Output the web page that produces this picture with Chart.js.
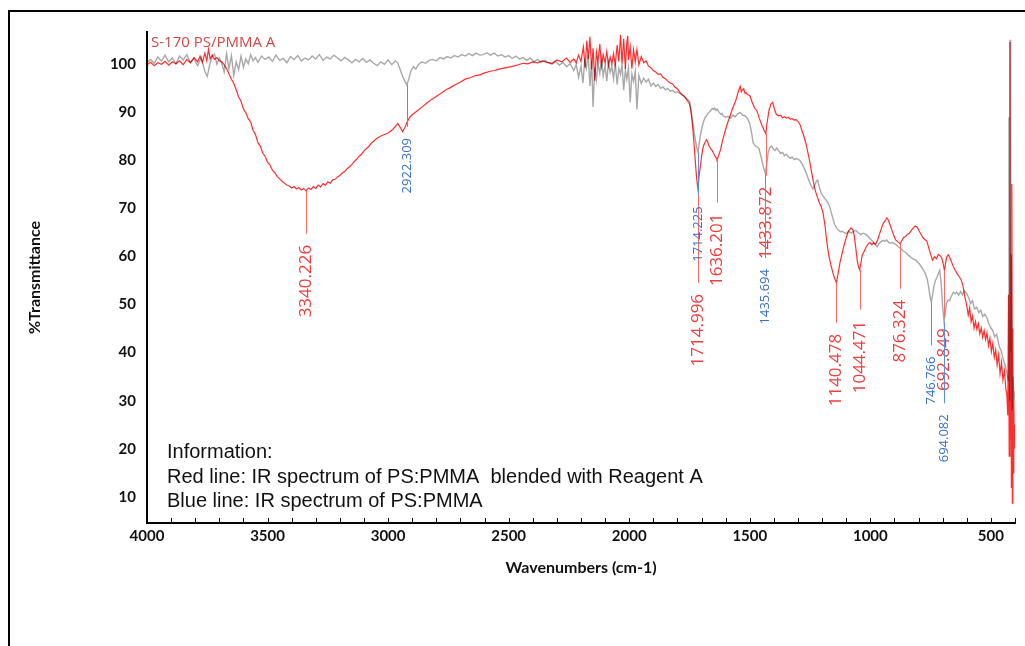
<!DOCTYPE html>
<html>
<head>
<meta charset="utf-8">
<script src="https://cdn.jsdelivr.net/npm/chart.js@4.4.1/dist/chart.umd.min.js"></script>
<style>
  html, body { margin: 0; padding: 0; background: #fff; overflow: hidden; }
  #frame { position: absolute; left: 8px; top: 10px; width: 1100px; height: 700px; border: 2px solid #000; }
  #spectrum { position: absolute; left: 0; top: 0; }
</style>
</head>
<body>
<div id="frame"></div>
<canvas id="spectrum" width="1025" height="646"></canvas>
<script>
// [wavenumber, %T] – PS:PMMA blended with reagent A (red trace)
const redTrace = [
  [4000,99.8],[3985,100.3],[3970,99.6],[3955,100.2],[3940,99.9],[3925,100.5],[3910,99.7],[3895,100.4],[3880,100.0],[3865,100.6],
  [3850,99.8],[3835,100.9],[3820,100.2],[3805,101.3],[3790,100.4],[3780,101.6],[3770,100.3],[3760,102.2],[3752,100.6],[3745,103.0],
  [3738,101.0],[3730,101.8],[3720,100.9],[3710,101.3],[3700,100.6],[3690,100.4],[3680,99.8],[3670,99.0],[3660,97.9],[3650,96.8],
  [3640,95.9],[3630,94.6],[3620,93.1],[3610,92.2],[3600,90.6],[3590,89.8],[3580,88.6],[3570,87.9],[3560,86.2],[3550,85.3],
  [3540,83.6],[3530,82.9],[3520,81.4],[3510,80.8],[3500,79.5],[3490,79.0],[3480,77.9],[3470,77.4],[3460,76.6],[3450,76.1],
  [3440,75.6],[3430,75.2],[3420,74.8],[3410,74.6],[3400,74.2],[3390,74.5],[3380,74.0],[3370,74.3],[3360,73.8],[3350,74.1],
  [3340.226,73.6],[3330,74.2],[3320,73.9],[3310,74.5],[3300,74.1],[3290,74.8],[3280,74.4],[3270,75.1],[3260,74.8],[3250,75.5],
  [3240,75.2],[3230,75.9],[3220,76.0],[3210,76.5],[3200,76.8],[3190,77.3],[3180,77.6],[3170,78.2],[3160,78.6],[3150,79.1],
  [3140,79.7],[3130,80.2],[3120,80.8],[3110,81.2],[3100,81.9],[3090,82.4],[3080,82.8],[3070,83.5],[3060,83.9],[3050,84.4],
  [3040,84.7],[3030,85.0],[3020,85.2],[3010,85.4],[3000,85.6],[2990,86.0],[2980,86.4],[2970,87.0],[2960,87.6],[2950,86.8],
  [2940,85.9],[2930,86.8],[2920,88.0],[2910,88.9],[2900,89.4],[2880,90.2],[2860,91.0],[2840,91.8],[2820,92.6],[2800,93.2],
  [2780,93.9],[2760,94.6],[2740,95.1],[2720,95.7],[2700,96.2],[2680,96.8],[2660,97.1],[2640,97.5],[2620,97.7],[2600,98.1],
  [2580,98.4],[2560,98.6],[2540,98.9],[2520,99.1],[2500,99.3],[2480,99.5],[2460,99.8],[2440,100.1],[2420,100.0],[2400,100.4],
  [2380,100.2],[2360,100.6],[2340,100.3],[2320,100.1],[2300,100.8],[2280,100.4],[2260,101.2],[2245,100.3],[2230,101.0],[2220,100.2],
  [2210,101.8],[2200,100.5],[2190,103.5],[2183,99.2],[2176,104.8],[2170,101.0],[2163,105.6],[2156,98.8],[2150,103.2],[2143,96.5],
  [2136,102.4],[2130,100.3],[2122,104.1],[2115,99.5],[2108,101.9],[2100,100.2],[2093,102.6],[2086,99.6],[2079,101.4],[2072,100.0],
  [2065,102.1],[2058,99.8],[2050,103.9],[2043,100.5],[2036,106.0],[2030,100.0],[2023,105.2],[2016,98.9],[2010,104.4],[2006,105.8],
  [2003,100.8],[1996,103.5],[1989,99.0],[1982,102.9],[1975,100.4],[1968,103.0],[1960,99.8],[1950,101.5],[1940,100.2],[1930,100.6],
  [1920,99.5],[1910,99.2],[1900,98.6],[1890,98.3],[1880,97.8],[1870,97.9],[1860,97.2],[1850,96.9],[1840,96.4],[1830,96.0],
  [1820,95.8],[1810,95.1],[1800,94.8],[1790,94.1],[1780,93.5],[1770,93.2],[1760,92.4],[1750,91.7],[1745,90.3],[1740,88.4],
  [1735,85.8],[1730,82.6],[1725,79.1],[1720,76.0],[1714.996,74.0],[1710,76.8],[1705,78.6],[1700,80.7],[1695,82.3],[1690,83.2],
  [1685,83.7],[1680,84.2],[1675,83.9],[1670,83.0],[1665,82.6],[1660,82.2],[1655,81.9],[1650,81.4],[1645,80.9],[1640,80.5],
  [1636.201,80.1],[1630,80.8],[1625,81.6],[1620,82.4],[1615,83.6],[1610,84.6],[1600,86.4],[1590,88.0],[1580,89.4],[1570,90.9],
  [1560,92.1],[1550,93.8],[1545,94.6],[1540,95.3],[1535,94.2],[1530,94.6],[1525,94.8],[1520,93.9],[1515,94.0],[1510,93.6],
  [1500,93.4],[1490,92.0],[1480,90.8],[1470,90.2],[1460,88.6],[1450,87.3],[1440,86.1],[1433.872,85.5],[1428,87.8],[1420,90.4],
  [1412,91.7],[1405,92.0],[1398,90.6],[1390,89.5],[1380,89.2],[1372,89.3],[1364,88.8],[1356,89.0],[1348,88.7],[1340,88.9],
  [1332,88.5],[1324,88.6],[1316,88.3],[1308,88.4],[1300,88.0],[1292,87.4],[1284,86.2],[1276,85.0],[1268,83.6],[1260,81.8],
  [1252,79.9],[1244,77.6],[1236,75.4],[1228,73.6],[1220,72.4],[1212,71.2],[1204,70.4],[1196,69.0],[1188,66.4],[1180,62.8],
  [1172,60.1],[1164,58.3],[1156,56.7],[1148,55.4],[1140.478,54.5],[1134,56.3],[1126,58.7],[1118,60.4],[1110,62.1],[1100,63.9],
  [1090,65.3],[1080,65.9],[1072,65.5],[1066,64.1],[1060,61.6],[1054,59.0],[1048,57.6],[1044.471,57.2],[1040,58.3],[1034,60.2],
  [1026,61.0],[1018,61.9],[1010,62.5],[1002,62.9],[994,62.4],[986,62.8],[978,62.5],[970,63.4],[962,64.6],[954,65.8],
  [946,66.9],[938,67.4],[932,68.0],[926,67.6],[918,66.5],[910,65.4],[902,64.2],[895,63.4],[886,63.0],[880,62.8],
  [876.324,62.6],[870,63.2],[862,63.9],[854,64.1],[846,64.6],[838,64.8],[830,65.4],[822,65.9],[814,66.3],[806,66.1],
  [798,65.3],[790,64.6],[782,63.9],[774,63.5],[766,63.2],[758,61.8],[750,60.4],[742,59.2],[734,59.9],[726,59.5],
  [718,60.4],[710,60.1],[704,59.7],[698,58.5],[692.849,57.1],[688,58.6],[683,59.9],[677,60.3],[671,59.8],[664,58.9],
  [656,57.9],[648,57.1],[640,56.4],[632,55.8],[624,55.2],[616,53.9],[608,51.6],[600,49.7],[594,47.8],[588,49.3],
  [582,46.4],[576,47.6],[570,45.1],[564,46.5],[558,44.8],[552,46.0],[546,43.9],[540,45.1],[534,43.2],[528,44.6],
  [522,42.7],[516,44.1],[510,41.5],[504,43.0],[498,40.2],[492,41.9],[486,39.0],[480,40.6],[474,37.4],[468,39.5],
  [462,35.6],[456,38.0],[450,34.3],[444,36.2],[438,32.4],[434,31.5],[430,27.0],[427,52.0],[424,18.5],[421,104.5],
  [419,22.0],[417,60.5],[415,12.0],[413,75.0],[411,8.7],[409,45.0],[407,15.0],[405,30.0],[403,20.0],[400,25.0]
];

// [wavenumber, %T] – PS:PMMA only (grey trace, labelled blue)
const grayTrace = [
  [4000,100.2],[3985,100.9],[3970,100.1],[3955,101.4],[3940,100.6],[3925,101.8],[3910,100.4],[3895,101.2],[3880,100.0],[3865,101.6],
  [3850,100.8],[3835,101.9],[3820,100.3],[3805,101.0],[3790,99.6],[3775,101.3],[3760,98.4],[3750,97.4],[3740,99.8],[3730,101.5],
  [3720,102.0],[3710,99.9],[3700,101.2],[3690,100.1],[3680,98.3],[3670,102.1],[3660,99.0],[3650,101.7],[3640,97.6],[3630,100.4],
  [3620,98.8],[3610,101.6],[3600,99.3],[3590,101.0],[3580,100.0],[3570,101.9],[3560,100.6],[3550,101.3],[3540,100.3],[3525,101.6],
  [3510,100.9],[3495,101.4],[3480,100.5],[3465,101.8],[3450,100.7],[3435,101.1],[3420,100.2],[3405,101.5],[3390,100.9],[3375,101.7],
  [3360,100.6],[3345,101.2],[3330,100.8],[3315,101.6],[3300,101.0],[3285,101.9],[3270,100.7],[3255,101.4],[3240,101.0],[3225,101.8],
  [3210,101.2],[3195,100.6],[3180,101.3],[3165,100.8],[3150,100.2],[3135,100.9],[3120,100.4],[3105,101.1],[3090,100.3],[3075,100.8],
  [3060,100.1],[3045,99.6],[3030,100.4],[3015,99.9],[3000,100.8],[2985,99.8],[2970,100.6],[2960,100.2],[2950,98.8],[2940,97.4],
  [2930,96.3],[2922.309,95.6],[2914,96.9],[2905,98.6],[2895,99.4],[2885,98.9],[2875,99.8],[2860,100.4],[2845,100.1],[2830,100.7],
  [2815,100.9],[2800,100.6],[2785,101.3],[2770,101.0],[2755,101.5],[2740,101.2],[2725,101.7],[2710,101.4],[2695,101.9],[2680,101.6],
  [2665,102.1],[2650,101.7],[2635,102.2],[2620,101.8],[2605,101.9],[2590,102.3],[2575,101.8],[2560,102.2],[2545,101.6],[2530,101.9],
  [2515,101.4],[2500,101.7],[2485,101.1],[2470,101.6],[2455,101.0],[2440,101.3],[2425,100.7],[2410,101.2],[2395,100.4],[2380,100.9],
  [2365,100.3],[2350,100.7],[2335,100.2],[2320,99.9],[2305,100.5],[2290,99.7],[2275,100.3],[2260,99.4],[2245,100.0],[2230,98.6],
  [2220,99.9],[2210,97.2],[2200,99.5],[2192,96.0],[2185,100.4],[2178,99.0],[2170,101.8],[2163,95.4],[2156,100.6],[2150,91.0],
  [2143,99.2],[2136,96.6],[2130,100.1],[2122,98.0],[2115,101.0],[2108,97.5],[2100,99.6],[2093,96.4],[2086,100.3],[2079,98.2],
  [2072,99.4],[2065,96.9],[2058,100.2],[2050,95.7],[2043,99.0],[2036,97.8],[2030,100.0],[2023,94.5],[2016,98.7],[2010,96.8],
  [2003,99.1],[1996,92.0],[1989,97.9],[1982,96.3],[1975,98.4],[1968,90.5],[1960,97.6],[1950,95.9],[1940,97.0],[1930,96.2],
  [1920,96.8],[1910,95.4],[1900,96.0],[1890,95.3],[1880,95.7],[1870,94.9],[1860,95.2],[1850,94.6],[1840,94.9],[1830,94.3],
  [1820,94.5],[1810,94.0],[1800,94.2],[1790,93.8],[1780,93.6],[1770,93.1],[1760,92.7],[1750,92.2],[1745,91.0],[1740,89.2],
  [1735,87.4],[1730,85.6],[1725,84.0],[1720,82.6],[1714.225,81.6],[1710,83.3],[1705,85.1],[1700,86.3],[1695,87.4],[1690,88.2],
  [1685,88.9],[1680,89.1],[1675,89.6],[1670,89.9],[1665,90.1],[1660,90.4],[1655,90.7],[1650,90.5],[1645,90.8],[1640,90.3],
  [1635,90.6],[1630,90.1],[1625,89.8],[1620,89.5],[1615,89.7],[1610,89.2],[1600,88.9],[1590,89.1],[1580,88.7],[1570,89.3],
  [1560,89.0],[1550,89.6],[1540,89.9],[1530,89.3],[1520,89.2],[1510,88.7],[1500,87.6],[1492,85.5],[1486,83.6],[1478,83.0],
  [1470,82.7],[1462,82.4],[1455,81.0],[1450,80.0],[1444,78.6],[1435.694,77.3],[1430,79.0],[1424,81.5],[1417,82.6],[1410,82.9],
  [1402,82.3],[1395,82.0],[1388,82.5],[1380,81.9],[1372,81.4],[1364,81.6],[1356,80.9],[1348,81.2],[1340,80.7],[1332,80.4],
  [1324,80.6],[1316,80.1],[1308,80.3],[1300,80.2],[1292,79.9],[1284,79.3],[1276,78.5],[1268,77.6],[1260,76.5],[1252,75.4],
  [1244,74.5],[1238,74.0],[1230,74.8],[1224,75.6],[1218,75.8],[1212,74.4],[1204,73.2],[1196,72.5],[1188,72.0],[1180,71.4],
  [1172,70.8],[1164,69.5],[1156,68.0],[1148,66.6],[1140,65.9],[1132,65.4],[1124,65.1],[1116,65.2],[1108,64.9],[1100,64.7],
  [1090,65.2],[1080,64.8],[1070,65.1],[1060,65.4],[1050,64.9],[1040,64.5],[1030,64.8],[1020,64.6],[1010,64.2],[1000,63.6],
  [990,63.1],[980,62.4],[972,62.0],[964,62.6],[956,63.0],[948,63.3],[940,63.1],[932,63.4],[924,62.9],[916,62.7],
  [908,62.9],[900,62.6],[892,62.4],[884,62.0],[876,61.7],[868,61.3],[860,61.0],[852,60.8],[844,60.3],[836,60.0],
  [828,59.6],[820,59.4],[812,59.2],[804,58.8],[796,58.4],[788,57.8],[780,57.2],[772,56.4],[764,55.3],[758,53.6],
  [752,51.6],[746.766,50.4],[742,52.0],[736,53.8],[730,55.0],[724,55.6],[718,56.4],[712,57.1],[706,54.2],[700,49.5],
  [694.082,46.3],[689,48.6],[684,50.2],[678,50.9],[671,50.8],[664,51.7],[656,52.5],[648,52.2],[642,52.6],[634,51.9],
  [626,52.7],[618,52.0],[610,52.8],[600,52.3],[592,51.4],[584,50.2],[576,50.8],[568,49.1],[559,49.4],[550,48.3],
  [542,48.8],[534,47.5],[526,48.0],[517,47.3],[508,46.0],[500,45.1],[492,44.6],[484,43.3],[476,43.8],[468,41.9],
  [464,41.1],[456,40.2],[448,38.5],[440,37.2],[434,35.9],[428,34.2],[425,88.9],[422,30.0],[420,105.0],[418,40.0],
  [415,60.0],[412,28.0],[408,35.0],[404,30.0],[400,32.0]
];

const xTickValues = [4000, 3500, 3000, 2500, 2000, 1500, 1000, 500];
const yTickValues = [10, 20, 30, 40, 50, 60, 70, 80, 90, 100];

// picked peaks, labelled with their wavenumber
const redPeaks = [3340.226, 1714.996, 1636.201, 1433.872, 1140.478, 1044.471, 876.324, 692.849];
const grayPeaks = [2922.309, 1714.225, 1435.694, 746.766, 694.082];

const plotTitle = 'S-170 PS/PMMA A';
const infoLines = [
  'Information:',
  'Red line: IR spectrum of PS:PMMA  blended with Reagent A',
  'Blue line: IR spectrum of PS:PMMA'
];

// drop-line length (px) under each peak so labels don't collide
const redLeadPx = [43, 94, 43, 42, 40, 40, 45, 47];
const grayLeadPx = [42, 43, 85, 43, 81];

const RED = '#ff2e2e';
const GRAY = '#a8a8a8';
const TICK_FONT = { family: 'Lato', size: 15, weight: 'bold' };

function peakValue(trace, w) {
  const p = trace.find(d => d[0] === w);
  return p ? p[1] : null;
}

// overlapping traces darken each other like the instrument software
const multiplyPlugin = {
  id: 'multiply',
  beforeDatasetsDraw(chart) {
    chart.ctx.save();
    chart.ctx.globalCompositeOperation = 'multiply';
  },
  afterDatasetsDraw(chart) {
    chart.ctx.restore();
  }
};

const decorPlugin = {
  id: 'decor',
  afterDraw(chart) {
    const { ctx, chartArea, scales: { x, y } } = chart;
    ctx.save();

    // small inward ticks every 100 cm-1
    ctx.strokeStyle = '#000';
    ctx.lineWidth = 1;
    for (let w = 400; w <= 4000; w += 100) {
      const px = Math.round(x.getPixelForValue(w)) + 0.5;
      ctx.beginPath();
      ctx.moveTo(px, chartArea.bottom - 1);
      ctx.lineTo(px, chartArea.bottom - 5);
      ctx.stroke();
    }

    const drawMarks = (peaks, trace, leads, lineColor, textColor, font) => {
      peaks.forEach((w, i) => {
        const px = Math.round(x.getPixelForValue(w)) + 0.5;
        const top = y.getPixelForValue(peakValue(trace, w));
        const end = top + leads[i];
        ctx.strokeStyle = lineColor;
        ctx.lineWidth = 1;
        ctx.beginPath();
        ctx.moveTo(px, top);
        ctx.lineTo(px, end);
        ctx.stroke();
        ctx.save();
        ctx.translate(px, end + 11);
        ctx.rotate(-Math.PI / 2);
        ctx.font = font;
        ctx.fillStyle = textColor;
        ctx.textAlign = 'right';
        ctx.textBaseline = 'middle';
        ctx.fillText(w.toFixed(3), 0, 0);
        ctx.restore();
      });
    };
    drawMarks(redPeaks, redTrace, redLeadPx, '#ff6a6a', '#ee3e3e', '17px "Open Sans"');
    drawMarks(grayPeaks, grayTrace, grayLeadPx, '#5b8fdc', '#3a6fc4', '13px "Open Sans"');

    // sample name
    ctx.font = '15px "Open Sans"';
    ctx.fillStyle = '#d04848';
    ctx.textAlign = 'left';
    ctx.textBaseline = 'middle';
    ctx.fillText(plotTitle, chartArea.left + 4, chartArea.top + 11);

    // info block
    ctx.font = '20px "Liberation Sans", Arial, sans-serif';
    ctx.fillStyle = '#111';
    ctx.textBaseline = 'alphabetic';
    infoLines.forEach((t, i) => ctx.fillText(t, 167, 458 + i * 24.5));

    ctx.restore();
  }
};

new Chart(document.getElementById('spectrum'), {
  type: 'line',
  data: {
    datasets: [
      {
        label: 'PS:PMMA + Reagent A',
        data: redTrace.map(d => ({ x: d[0], y: d[1] })),
        borderColor: RED,
        borderWidth: 1.2,
        pointRadius: 0,
        tension: 0,
        fill: false
      },
      {
        label: 'PS:PMMA',
        data: grayTrace.map(d => ({ x: d[0], y: d[1] })),
        borderColor: GRAY,
        borderWidth: 1.4,
        pointRadius: 0,
        tension: 0,
        fill: false
      }
    ]
  },
  options: {
    responsive: false,
    animation: false,
    devicePixelRatio: 1,
    events: [],
    layout: { padding: { left: 21, top: 32, right: 10, bottom: 64.4 } },
    plugins: {
      legend: { display: false },
      tooltip: { enabled: false }
    },
    scales: {
      x: {
        type: 'linear',
        reverse: true,
        min: 400,
        max: 4000,
        afterBuildTicks: s => { s.ticks = xTickValues.map(v => ({ value: v })); },
        afterFit: s => { s.height = 58.6; },
        grid: { display: false, drawTicks: false },
        border: { display: true, color: '#000', width: 2 },
        ticks: {
          font: TICK_FONT,
          color: '#111',
          padding: 4,
          maxRotation: 0,
          autoSkip: false,
          callback: v => String(v)
        },
        title: {
          display: true,
          text: 'Wavenumbers (cm-1)',
          font: { family: 'Lato', size: 16, weight: 'bold' },
          color: '#111'
        }
      },
      y: {
        min: 4.6,
        max: 106.6,
        afterBuildTicks: s => { s.ticks = yTickValues.map(v => ({ value: v })); },
        afterFit: s => { s.width = 126; },
        grid: { display: false, drawTicks: false },
        border: { display: true, color: '#000', width: 2 },
        ticks: {
          font: TICK_FONT,
          color: '#111',
          padding: 11,
          callback: v => String(v)
        },
        title: {
          display: true,
          text: '%Transmittance',
          font: { family: 'Lato', size: 16, weight: 'bold' },
          color: '#111'
        }
      }
    }
  },
  plugins: [multiplyPlugin, decorPlugin]
});
</script>
</body>
</html>
